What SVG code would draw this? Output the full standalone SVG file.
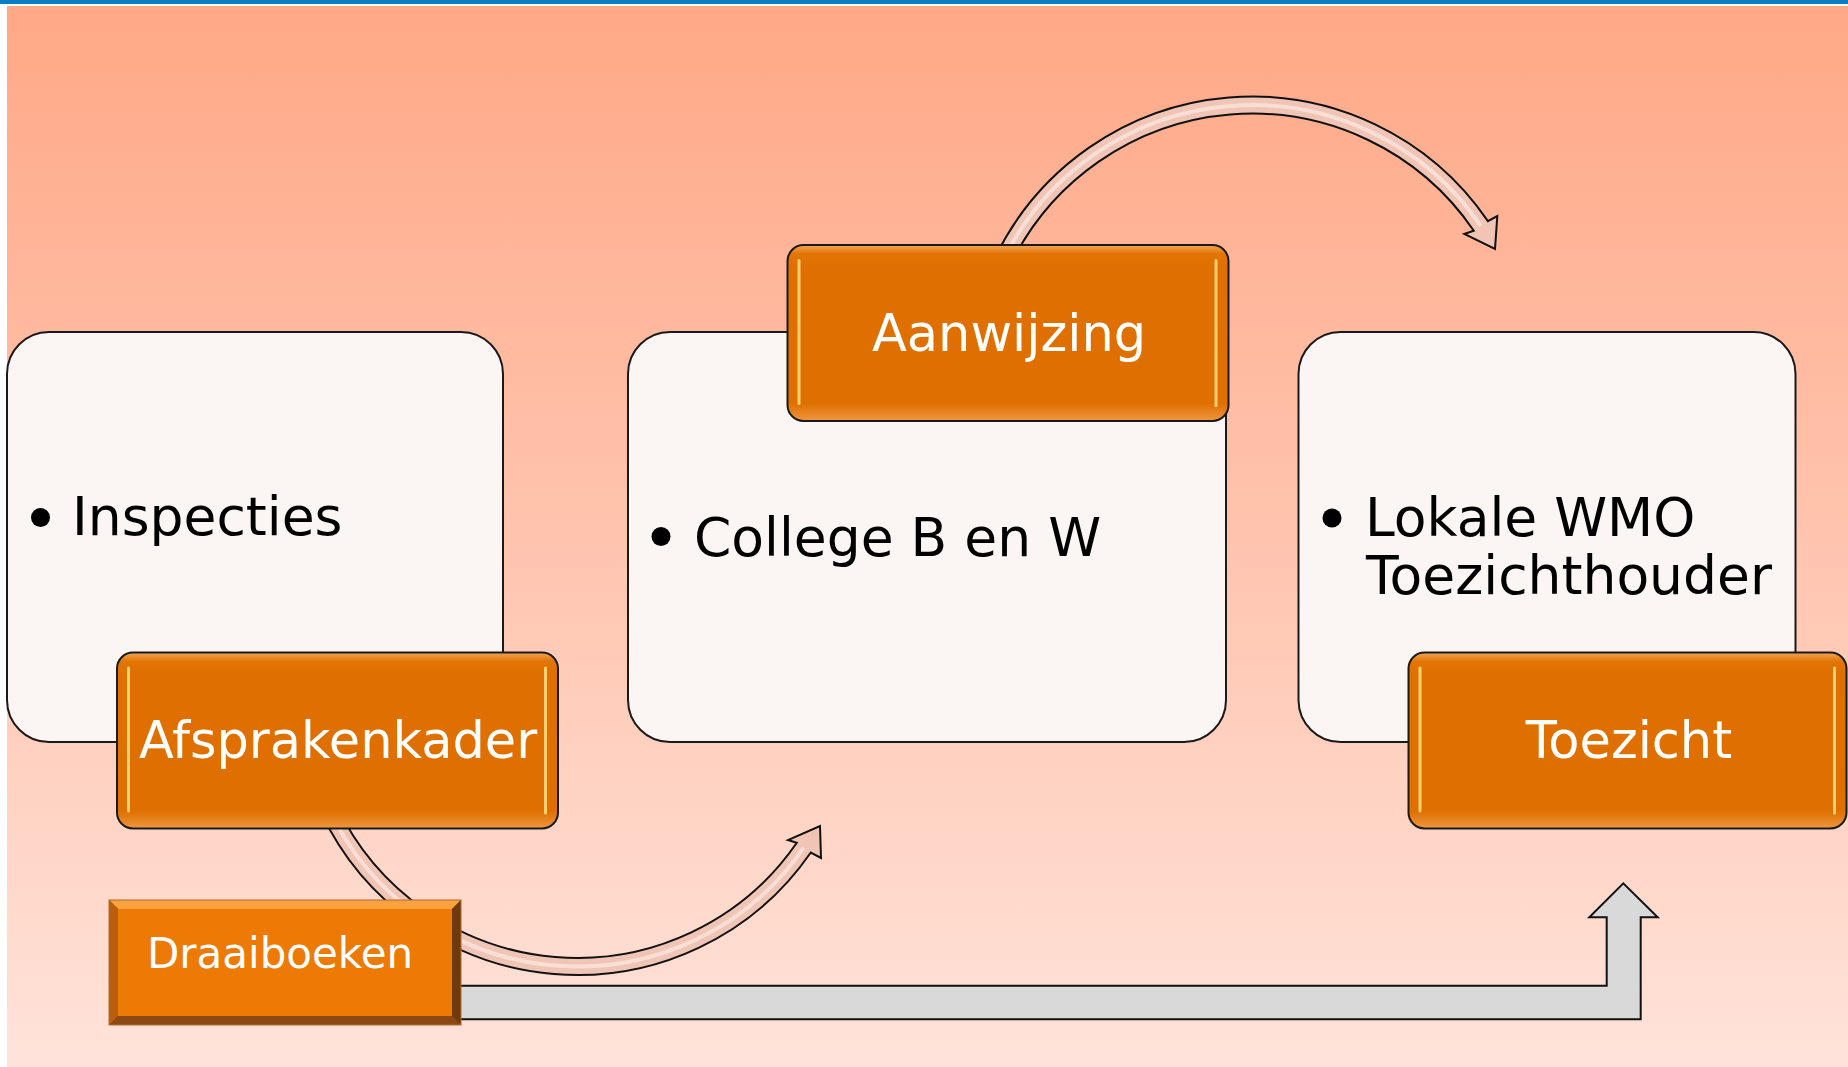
<svg xmlns="http://www.w3.org/2000/svg" width="1848" height="1067" viewBox="0 0 1848 1067">
<style>
.box{fill:#FBF5F3;stroke:#1a1a1a;stroke-width:2}
.lbl{stroke:#1a1a1a;stroke-width:2}
.gloss{stroke:#FFD070;stroke-width:3;stroke-linecap:round;fill:none}
.bt{font-family:"DejaVu Sans","Liberation Sans",sans-serif;font-size:53.5px;fill:#000}
.lt{font-family:"DejaVu Sans","Liberation Sans",sans-serif;font-size:51px;fill:#fff;text-anchor:middle}
.arc{fill:#F0C5B6;stroke:#111;stroke-width:2;stroke-linejoin:miter}
.hl{fill:none;stroke:#FAE2DA;stroke-width:4;opacity:.85}
</style>
<defs>
<linearGradient id="bg" x1="0" y1="0" x2="0" y2="1">
<stop offset="0" stop-color="#FFA886"/>
<stop offset="0.5" stop-color="#FFC4AE"/>
<stop offset="1" stop-color="#FFE3DA"/>
</linearGradient>
<linearGradient id="og" x1="0" y1="0" x2="0" y2="1">
<stop offset="0" stop-color="#F2A657"/>
<stop offset="0.05" stop-color="#E27506"/>
<stop offset="0.12" stop-color="#DF7000"/>
<stop offset="0.9" stop-color="#DF7000"/>
<stop offset="0.97" stop-color="#E98A2C"/>
<stop offset="1" stop-color="#EE9A44"/>
</linearGradient>
</defs>
<rect x="0" y="0" width="1848" height="1067" fill="#fff"/>
<rect x="7" y="6" width="1841" height="1061" fill="url(#bg)"/>
<rect x="0" y="0" width="1848" height="4" fill="#0A7DC5"/>

<g id="connectors">
<path class="arc" d="M320.5,811.3 A283.5,283.5 0 0 0 810.8,852.5 L821,858 L820,826 L788,840 L796.8,842.8 A266.5,266.5 0 0 1 335.9,804.1 Z"/>
<path class="hl" d="M328.2,807.7 A275,275 0 0 0 803.8,847.6"/>
<path class="arc" d="M993.3,261.3 A285.5,285.5 0 0 1 1487.9,221.1 L1497.3,216 L1495,249 L1464.3,234 L1473.8,230.7 A268.5,268.5 0 0 0 1008.7,268.5 Z"/>
<path class="hl" d="M1001,264.9 A277,277 0 0 1 1480.8,225.9"/>
<polygon points="459,985.7 1606.7,985.7 1606.7,917.3 1589.3,917.3 1623.3,883.3 1657.7,917.3 1640.7,917.3 1640.7,1019.3 459,1019.3" fill="#D9D9D9" stroke="#111" stroke-width="2"/>
</g>

<g id="inspecties">
<rect class="box" x="7" y="332" width="496" height="410" rx="42"/>
<circle cx="40.5" cy="517.5" r="9.5"/>
<text class="bt" x="72" y="535">Inspecties</text>
</g>

<g id="college">
<rect class="box" x="628" y="332" width="598" height="410" rx="42"/>
<circle cx="661" cy="536.5" r="9.5"/>
<text class="bt" x="694" y="556">College B en W</text>
</g>

<g id="lokale">
<rect class="box" x="1298.5" y="332" width="497" height="410" rx="42"/>
<circle cx="1332" cy="518" r="9.5"/>
<text class="bt" x="1365" y="536">Lokale WMO</text>
<text class="bt" x="1366" y="593.5">Toezichthouder</text>
</g>

<g id="afsprakenkader">
<rect class="lbl" x="117" y="652.5" width="441" height="176" rx="16" fill="url(#og)"/>
<line class="gloss" x1="128.5" y1="668" x2="128.5" y2="811"/>
<line class="gloss" x1="545.5" y1="668" x2="545.5" y2="813"/>
<text class="lt" x="338" y="758">Afsprakenkader</text>
</g>

<g id="aanwijzing">
<rect class="lbl" x="787.5" y="245" width="441" height="176" rx="16" fill="url(#og)"/>
<line class="gloss" x1="799" y1="260.5" x2="799" y2="403.5"/>
<line class="gloss" x1="1216" y1="260.5" x2="1216" y2="405.5"/>
<text class="lt" x="1009" y="351">Aanwijzing</text>
</g>

<g id="toezicht">
<rect class="lbl" x="1408.5" y="652.5" width="438" height="176" rx="16" fill="url(#og)"/>
<line class="gloss" x1="1420" y1="668" x2="1420" y2="811"/>
<line class="gloss" x1="1834.5" y1="668" x2="1834.5" y2="813"/>
<text class="lt" x="1629" y="758">Toezicht</text>
</g>

<g id="draaiboeken">
<rect x="109" y="900" width="352" height="125" fill="#8A4A12"/>
<polygon points="109,900 461,900 452,909 118,909" fill="#F9A23E"/>
<polygon points="109,900 118,909 118,1016 109,1025" fill="#B85E0C"/>
<polygon points="461,900 461,1025 452,1016 452,909" fill="#6E3A0C"/>
<polygon points="109,1025 118,1016 452,1016 461,1025" fill="#8C4A12"/>
<rect x="118" y="909" width="334" height="107" fill="#EE7A06"/>
<rect x="109" y="900" width="352" height="125" fill="none" stroke="#B06A30" stroke-width="1"/>
<text x="280" y="968" font-family="DejaVu Sans, Liberation Sans, sans-serif" font-size="42" fill="#fff" text-anchor="middle">Draaiboeken</text>
</g>
</svg>
